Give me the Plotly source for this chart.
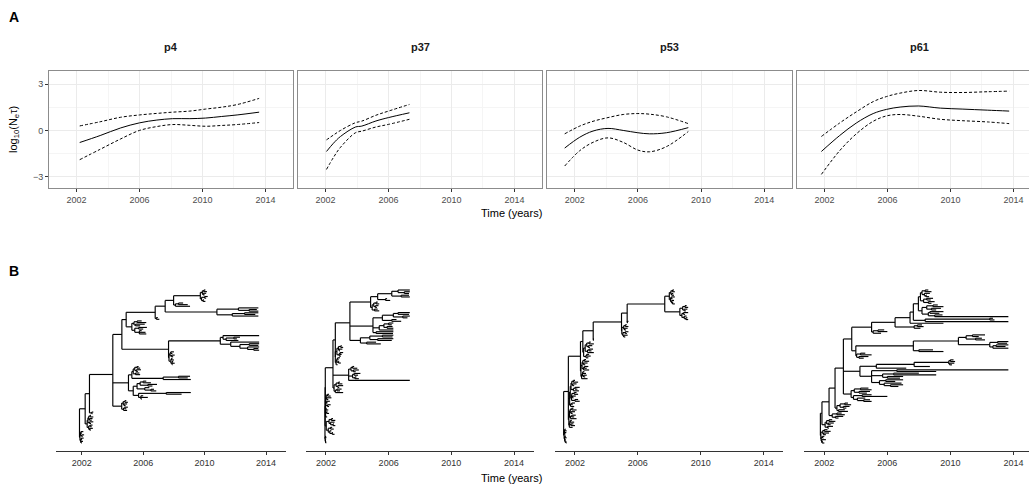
import plotly.graph_objects as go

W, H = 1029, 487

# ---------------- Panel A data (log10 Ne*tau skyline: median and 95% bounds) ----------------
PATIENTS = ["p4", "p37", "p53", "p61"]

P4_T = [2002.2, 2003.5, 2004.8, 2006.0, 2007.1, 2008.1, 2009.2, 2010.2, 2011.2, 2012.2, 2013.6]
P4_MED = [-0.78, -0.33, 0.16, 0.49, 0.67, 0.76, 0.76, 0.80, 0.90, 1.00, 1.18]
P4_HI = [0.29, 0.56, 0.85, 1.00, 1.10, 1.18, 1.25, 1.38, 1.50, 1.67, 2.07]
P4_LO = [-1.89, -1.22, -0.55, 0.00, 0.25, 0.38, 0.33, 0.27, 0.32, 0.38, 0.51]

P37_T = [2002.06, 2002.5, 2002.95, 2003.9, 2004.3, 2005.2, 2006.0, 2007.33]
P37_MED = [-1.36, -0.83, -0.39, 0.22, 0.28, 0.61, 0.83, 1.14]
P37_HI = [-0.61, -0.30, 0.00, 0.50, 0.60, 0.98, 1.25, 1.68]
P37_LO = [-2.52, -1.75, -1.09, -0.15, -0.05, 0.22, 0.39, 0.72]

P53_T = [2001.37, 2002.32, 2003.16, 2004.11, 2005.07, 2006.0, 2006.74, 2007.8, 2009.19]
P53_MED = [-1.14, -0.44, -0.04, 0.13, 0.00, -0.15, -0.22, -0.15, 0.18]
P53_HI = [-0.22, 0.28, 0.59, 0.83, 1.03, 1.09, 1.05, 0.88, 0.44]
P53_LO = [-2.30, -1.31, -0.77, -0.48, -0.77, -1.27, -1.38, -1.05, -0.07]

P61_T = [2001.8, 2002.96, 2004.02, 2005.09, 2005.94, 2006.8, 2007.97, 2009.36, 2010.74, 2012.34, 2013.73]
P61_MED = [-1.36, -0.33, 0.48, 1.09, 1.36, 1.51, 1.58, 1.44, 1.38, 1.31, 1.25]
P61_HI = [-0.39, 0.48, 1.20, 1.86, 2.19, 2.41, 2.58, 2.47, 2.45, 2.50, 2.54]
P61_LO = [-2.84, -1.31, -0.22, 0.59, 0.94, 1.03, 0.92, 0.72, 0.63, 0.55, 0.44]

X_TICKS = [2002, 2006, 2010, 2014]
Y_TICKS = [-3, 0, 3]

# ---------------- Panel B data: time-scaled trees, "(child,child)node_time" with tip times ----------------
# p4
P4_C1 = "(((2010.05,2010.15)2009.95,(2010.1,2010.0)2009.9)2009.85,((2010.2,2010.1)2010.0,(2009.95,2010.05)2009.9)2009.8)2009.72"
P4_C2 = "((2008.6,2008.9)2008.3,2009.05)2008.1"
P4_C3 = "((2013.5,(2013.4,2013.5)2012.9)2012.2,((2013.5,2013.3)2012.6,2013.5)2011.8)2010.8"
P4_S6 = "(2006.95,2007.05)2006.85"
P4_B4 = "(((2005.9,2006.2)2005.6,(2006.1,2005.8)2005.5)2005.4,((2006.24,2006.0)2005.7,(2005.9,2006.15,2006.2)2005.75)2005.45)2005.26"
P4_S11 = "((2013.55,((2012.3,2012.1)2011.9,2012.2)2011.4)2011.2,(2013.55,((2013.55,2013.5)2012.9,(2013.55,(2013.5,2013.55)2013.2)2012.8)2012.3)2011.7)2011.02"
P4_B5 = "(((2008.0,2007.9)2007.8,(2008.05,2007.95)2007.85)2007.75,((2007.9,2008.0)2007.85,(2007.95,2008.05,2007.9)2007.88)2007.8)2007.68"
P4_C6 = "(((2005.7,2005.8)2005.6,(2005.85,2005.65)2005.55)2005.45,(2005.75,2005.8)2005.5)2005.35"
P4_C7 = "((2009.05,2008.9)2008.3,2009.1)2007.3"
P4_C8 = "((((2006.2,2006.5)2006.0,(2006.9,2006.6)2006.3)2005.8,(2006.4,(2006.7,2006.85)2006.5)2006.1)2005.6,((2009.1,2008.5)2007.5,(2006.0,2006.3,2005.9)2005.85)2005.7)2005.35"
P4_C9 = "(((2004.9,2005.0)2004.8,(2004.95,2004.85)2004.75)2004.7,((2005.0,2004.9)2004.8,2004.95)2004.72)2004.6"
P4_C10 = "((((2002.6,2002.75)2002.55,(2002.7,2002.65)2002.5)2002.45,(2002.75,2002.6)2002.5)2002.4,((2002.7,2002.65)2002.55,(2002.72,2002.6)2002.5)2002.45)2002.35"
P4_S10 = "(2002.75,2002.7)2002.65"
P4_C11 = "(((2002.1,2002.0)2001.95,(2002.15,2002.05)2002.0)2001.92,((2002.12,2002.02)2001.97,(2002.08,2002.0)2001.95)2001.93)2001.88"
P4_TREE = (
    "(((((((((" + P4_C1 + "," + P4_C2 + ")2007.98," + P4_C3 + ")2007.43," + P4_S6 + ")2006.78,"
    + P4_B4 + ")2004.89,(" + P4_S11 + "," + P4_B5 + ")2007.65)2004.61,"
    + "((" + P4_C6 + "," + P4_C7 + ")2005.26," + P4_C8 + ")2005.04," + P4_C9 + ")2004.02,"
    + P4_S10 + ")2002.5," + P4_C10 + ")2002.22," + P4_C11 + ")2001.85"
)

# p37
P37_TOP = "(((2007.35,(2007.35,2007.3)2007.0)2006.6,(2007.3,2007.35)2006.8)2006.2,(2005.9,2006.1)2005.8)2005.3"
P37_C85 = "(((2005.3,2005.4)2005.2,(2005.35,2005.25)2005.15)2005.05,(2005.3,2005.4)2005.1)2004.95"
P37_B120 = "(((2007.35,2007.3)2006.6,(2007.35,2007.2)2006.9)2006.3,(2006.5,2006.8)2006.2)2005.6"
P37_C150 = "(((2006.3,2006.2)2006.0,(2006.25,2006.3)2005.9)2005.7,2006.3)2005.4"
P37_L175 = "(2006.3,2006.28)2005.2"
P37_C185 = "(((2006.3,2006.25)2005.6,(2006.3,2006.2)2005.3)2004.8,(2005.2,2005.5)2004.6)2004.2"
P37_C220 = "((((2003.0,2003.1)2002.95,(2003.05,2002.9)2002.85)2002.8,((2003.1,2003.0)2002.9,2002.95)2002.85)2002.7,(((2002.9,2002.8)2002.75,(2002.85,2002.95)2002.8)2002.7,2002.75)2002.65)2002.6"
P37_C280 = "(((2003.8,2004.0)2003.7,(2004.1,2003.9)2003.75)2003.6,((2004.2,2004.05)2003.8,(2003.95,2004.1)2003.85)2003.7,2007.35)2003.45"
P37_C330 = "(((2002.9,2003.05)2002.8,(2003.1,2002.85)2002.75)2002.65,((2003.0,2002.9)2002.7,2003.1)2002.6)2002.52"
P37_L370 = "((((2002.2,2002.3)2002.1,(2002.35,2002.15)2002.05)2002.02,((2002.25,2002.1)2002.05,(2002.3,2002.2)2002.1)2002.0)2001.99,(((2002.05,2002.15)2002.0,(2002.1,2002.2)2002.05)2001.99,(2002.0,2002.08)2001.98)2001.975)2001.97"
P37_C440 = "(((2002.45,2002.6)2002.35,(2002.55,(2002.5,2002.6)2002.45)2002.3)2002.2,((2002.4,2002.5)2002.3,(2002.35,(2002.45,2002.55)2002.4)2002.25)2002.15)2002.02"
P37_BOT = "((2002.0,2002.03)2001.98,(2002.01,(2001.99,2002.02)2001.985)2001.97)2001.95"
P37_TREE = (
    "(((((((" + P37_TOP + "," + P37_C85 + ")2004.85,(" + P37_B120 + "," + P37_C150 + "," + P37_L175 + ")2005.0,"
    + P37_C185 + ")2003.53," + P37_C220 + ")2002.6," + P37_C280 + "," + P37_C330 + ")2002.45,"
    + P37_L370 + ")2001.96," + P37_C440 + ")2001.95," + P37_BOT + ")2001.94"
)

# p53
P53_TOP = "(((2008.3,2008.35)2008.2,(2008.25,2008.3)2008.15)2008.1,((2008.35,2008.2)2008.12,(2008.3,(2008.25,2008.35)2008.2)2008.15)2008.08)2008.0"
P53_C110 = "(((2009.1,2009.2)2009.0,(2009.15,2009.05)2008.95)2008.85,((2009.2,2009.0)2008.9,(2009.1,(2009.15,2009.2)2009.05)2008.95)2008.8)2008.67"
P53_S2005 = "(2005.4,2005.35)2005.33"
P53_C150 = "(((2005.3,2005.4)2005.2,(2005.35,2005.25)2005.15)2005.1,((2005.4,2005.3)2005.2,(2005.35,2005.2)2005.1)2005.05)2004.98"
P53_S2003 = "(2003.2,2003.15)2003.17"
P53_C205 = "((((2003.0,2003.2)2002.9,(2003.1,2002.95)2002.85)2002.75,((2003.15,2003.05)2002.9,2003.2)2002.8)2002.65,((2002.9,2003.0)2002.75,2002.85)2002.7)2002.55"
P53_C260 = "((((2002.7,2002.9)2002.6,(2002.8,2002.65)2002.55)2002.5,((2002.85,2002.75)2002.6,2002.9)2002.55)2002.45,(((2002.6,2002.7)2002.5,(2002.75,2002.65)2002.55)2002.48,2002.8)2002.42)2002.38"
P53_C320 = "(((((2002.0,2002.2)2001.9,(2002.1,2001.95)2001.85)2001.8,((2002.3,2002.15)2002.0,2002.25)2001.9)2001.75,(((2002.1,2002.2)2001.95,(2002.05,2001.9)2001.85)2001.8,(2002.2,2002.3)2002.0)2001.78)2001.7,((2002.0,2001.85)2001.8,2001.95)2001.72)2001.66"
P53_C410 = "((((2001.9,2002.1)2001.8,(2002.0,2001.85)2001.75)2001.7,((2002.05,2001.95)2001.8,2002.1)2001.72)2001.65,(((2001.8,2001.95)2001.7,(2001.9,2002.0)2001.75)2001.68,2001.85)2001.64)2001.61"
P53_BOT = "(((2001.4,2001.47)2001.36,(2001.45,2001.38)2001.35)2001.33,((2001.42,2001.47)2001.36,(2001.4,(2001.44,2001.47)2001.42)2001.37)2001.34)2001.31"
P53_TREE = (
    "((((((((" + P53_TOP + "," + P53_C110 + ")2007.71," + P53_S2005 + ")2005.32," + P53_C150 + ")2004.96,"
    + P53_S2003 + ")2003.16," + P53_C205 + ")2002.5," + P53_C260 + ")2002.35,"
    + P53_C320 + "," + P53_C410 + ")2001.58," + P53_BOT + ")2001.28"
)

# p61
P61_BIG = "((((2008.6,2008.8)2008.4,(2008.7,(2008.5,2008.65)2008.45)2008.35)2008.2,((2008.9,2008.75)2008.5,(2009.0,2008.8)2008.6)2008.3)2008.1,(((2009.2,2009.56)2008.9,(2009.4,2009.1)2008.8)2008.5,((2009.56,2009.3)2008.7,(2009.5,2013.68)2009.0)2008.6)2008.2)2007.97"
P61_G1 = "((2012.7,2012.8)2012.5,2013.68)2008.4"
P61_C08B = "((2008.2,2008.3)2007.9,2008.1)2007.7"
P61_C05 = "((2005.8,2006.0)2005.4,2005.6)2005.1"
P61_C11 = "((2012.2,2011.8)2011.4,(2012.0,2012.2)2011.6)2011.0"
P61_B13 = "((2013.68,2013.6)2013.0,((2013.68,2013.5)2012.9,2013.68)2012.7)2012.5"
P61_C09 = "(2008.9,2009.56)2008.0"
P61_C04 = "((2004.6,2005.0)2004.3,(2004.8,2004.5)2004.2)2004.05"
P61_N1 = "((((2010.2,2010.3)2010.0,(2010.25,2010.1)2009.95)2009.9,2008.7)2007.7,2007.2)2005.3"
P61_O1 = "((2013.68,2009.1)2006.6,((2008.0,2009.1)2006.4,(2007.0,2006.8)2006.0)2005.7,((2007.0,2006.5)2005.9,(2006.9,(2007.0,2006.7)2006.2)2005.8)2005.5)2005.0"
P61_B345 = "(((2004.8,2005.0)2004.3,(2004.9,2004.7)2004.2)2003.9,((2005.0,2006.0)2004.4,(2004.6,(2004.9,2005.0)2004.5)2004.1)2003.85)2003.7"
P61_C390 = "(((2003.5,2003.7)2003.3,(2003.6,2003.4)2003.2)2003.0,(2003.3,2003.5)2002.9)2002.8"
P61_C420 = "((2003.1,2003.3)2002.8,(2003.2,2002.9)2002.7)2002.5"
P61_C440 = "(((2002.5,2002.7)2002.3,(2002.6,2002.4)2002.25)2002.15,(2002.55,2002.3)2002.2)2002.05"
P61_BOT = "(((2002.2,2002.4)2002.0,(2002.3,2002.1)2001.95)2001.9,((2002.0,2001.95)2001.88,(2002.1,(2001.9,2002.0)2001.86)2001.83)2001.8)2001.78"
P61_TREE = (
    "((((((((((" + P61_BIG + "," + P61_G1 + ")2007.65,2009.56)2007.44," + P61_C08B + ")2006.49,"
    + P61_C05 + ")2005.0,(((" + P61_C11 + "," + P61_B13 + ")2010.51," + P61_C09 + ")2007.65,"
    + P61_C04 + ")2004.0)2003.74,(" + P61_N1 + "," + P61_O1 + ")2004.26," + P61_B345 + ")2003.21,"
    + P61_C390 + ")2002.68," + P61_C420 + ")2002.3," + P61_C440 + ")2001.85," + P61_BOT + ")2001.75"
)
TREES = [P4_TREE, P37_TREE, P53_TREE, P61_TREE]


# ---------------- tree parsing / layout ----------------
def parse_tree(s):
    s = "".join(s.split())
    pos = 0

    def num():
        nonlocal pos
        st = pos
        while pos < len(s) and (s[pos].isdigit() or s[pos] in ".-"):
            pos += 1
        return float(s[st:pos])

    def node():
        nonlocal pos
        if s[pos] == "(":
            pos += 1
            kids = [node()]
            while s[pos] == ",":
                pos += 1
                kids.append(node())
            pos += 1  # ')'
            return {"t": num(), "kids": kids}
        return {"t": num(), "kids": []}

    root = node()
    assert pos == len(s), "unbalanced tree string"
    return root


def tree_segments(root):
    tips = []

    def collect(n):
        if not n["kids"]:
            tips.append(n)
        for k in n["kids"]:
            collect(k)

    collect(root)
    n_tips = len(tips)
    for i, tp in enumerate(tips):
        tp["y"] = n_tips - 1 - i

    def sety(n):
        if n["kids"]:
            for k in n["kids"]:
                sety(k)
            n["y"] = sum(k["y"] for k in n["kids"]) / len(n["kids"])

    sety(root)
    xs, ys = [], []

    def draw(n):
        if not n["kids"]:
            return
        kys = [k["y"] for k in n["kids"]]
        xs.extend([n["t"], n["t"], None])
        ys.extend([min(kys), max(kys), None])
        for k in n["kids"]:
            xs.extend([n["t"], k["t"], None])
            ys.extend([k["y"], k["y"], None])
            draw(k)

    draw(root)
    return xs, ys, n_tips


# ---------------- figure ----------------
def px_x(p):
    return p / W


def px_y(p):
    return 1 - p / H


FONT = "Liberation Sans, Arial, Helvetica, sans-serif"
fig = go.Figure()

top_domains = [(49, 293), (298, 542), (547, 792), (797, 1029)]
top_ranges = [(2000.25, 2015.75), (2000.25, 2015.75), (2000.25, 2015.75), (2000.25, 2000.25 + 232 / 15.74)]
series = [
    (P4_T, P4_MED, P4_HI, P4_LO),
    (P37_T, P37_MED, P37_HI, P37_LO),
    (P53_T, P53_MED, P53_HI, P53_LO),
    (P61_T, P61_MED, P61_HI, P61_LO),
]

layout = {}
for i in range(4):
    ax = i + 1
    t, med, hi, lo = series[i]
    xr, yr = ("x" if ax == 1 else f"x{ax}"), ("y" if ax == 1 else f"y{ax}")
    for vals, dash in ((hi, "3px,2px"), (lo, "3px,2px"), (med, "solid")):
        fig.add_trace(go.Scatter(x=t, y=vals, mode="lines", xaxis=xr, yaxis=yr,
                                 line=dict(color="black", width=1, dash=dash, shape="spline", smoothing=1.0),
                                 hoverinfo="skip", showlegend=False))
    d0, d1 = top_domains[i]
    layout[f"xaxis{ax}"] = dict(
        domain=[px_x(d0), px_x(d1)], range=list(top_ranges[i]), anchor=yr,
        tickmode="array", tickvals=X_TICKS, ticks="outside", ticklen=3, tickcolor="#333333",
        tickfont=dict(size=9, color="#4d4d4d", family=FONT),
        showgrid=True, gridcolor="#ebebeb", gridwidth=1,
        minor=dict(tickmode="array", tickvals=[2000, 2004, 2008, 2012], showgrid=True, gridcolor="#f5f5f5", gridwidth=1),
        showline=True, mirror=True, linecolor="#8c8c8c", linewidth=1, zeroline=False,
    )
    layout[f"yaxis{ax}"] = dict(
        domain=[px_y(188), px_y(71)], range=[-3.72, 3.84], anchor=xr,
        tickmode="array", tickvals=Y_TICKS, ticks="outside" if i == 0 else "", ticklen=3, tickcolor="#333333",
        showticklabels=(i == 0), tickfont=dict(size=9, color="#4d4d4d", family=FONT),
        showgrid=True, gridcolor="#ebebeb", gridwidth=1,
        minor=dict(tickmode="array", tickvals=[-1.5, 1.5], showgrid=True, gridcolor="#f5f5f5", gridwidth=1),
        showline=True, mirror=(i < 3), linecolor="#8c8c8c", linewidth=1, zeroline=False,
    )

tree_domains = [(56, 286), (306, 534), (555, 783), (804, 1029)]
tree_ranges = [(2000.32, 2015.3), (2000.73, 2015.27), (2000.73, 2015.23), (2000.71, 2014.99)]
for i in range(4):
    ax = i + 5
    xs, ys, n_tips = tree_segments(parse_tree(TREES[i]))
    xr, yr = f"x{ax}", f"y{ax}"
    fig.add_trace(go.Scatter(x=xs, y=ys, mode="lines", xaxis=xr, yaxis=yr,
                             line=dict(color="black", width=1.15),
                             hoverinfo="skip", showlegend=False))
    ppt = 153.0 / (n_tips - 1)
    d0, d1 = tree_domains[i]
    layout[f"xaxis{ax}"] = dict(
        domain=[px_x(d0), px_x(d1)], range=list(tree_ranges[i]), anchor=yr,
        tickmode="array", tickvals=X_TICKS, ticks="outside", ticklen=3, tickcolor="#333333",
        tickfont=dict(size=9, color="#333333", family=FONT),
        showgrid=False, showline=True, linecolor="#333333", linewidth=1, zeroline=False,
    )
    layout[f"yaxis{ax}"] = dict(
        domain=[px_y(451), px_y(283)], range=[-8.0 / ppt, n_tips - 1 + 7.0 / ppt], anchor=xr,
        visible=False, showgrid=False, zeroline=False,
    )

ann = []
def add_text(text, x, y, size, bold=False, angle=0, color="black"):
    ann.append(dict(text=f"<b>{text}</b>" if bold else text, x=px_x(x), y=px_y(y), xref="paper", yref="paper",
                    xanchor="center", yanchor="middle", showarrow=False, textangle=angle,
                    font=dict(size=size, color=color, family=FONT)))

add_text("A", 14, 17, 14, bold=True)
add_text("B", 14, 271, 14, bold=True)
for i, name in enumerate(PATIENTS):
    d0, d1 = top_domains[i]
    cx = (d0 + d1) / 2 if i < 3 else 919
    add_text(name, cx, 47, 11, bold=True, color="#1a1a1a")
add_text("log<sub>10</sub>(N<sub>e</sub>τ)", 14, 130, 11, angle=-90)
add_text("Time (years)", 511, 213, 11)
add_text("Time (years)", 511, 478, 11)

fig.update_layout(**layout)
fig.update_layout(width=W, height=H, margin=dict(l=0, r=0, t=0, b=0),
                  paper_bgcolor="white", plot_bgcolor="white", annotations=ann,
                  font=dict(family=FONT), showlegend=False)

fig.write_html("out.html", config={"displayModeBar": False},
               post_script="document.body.style.margin='0';")
